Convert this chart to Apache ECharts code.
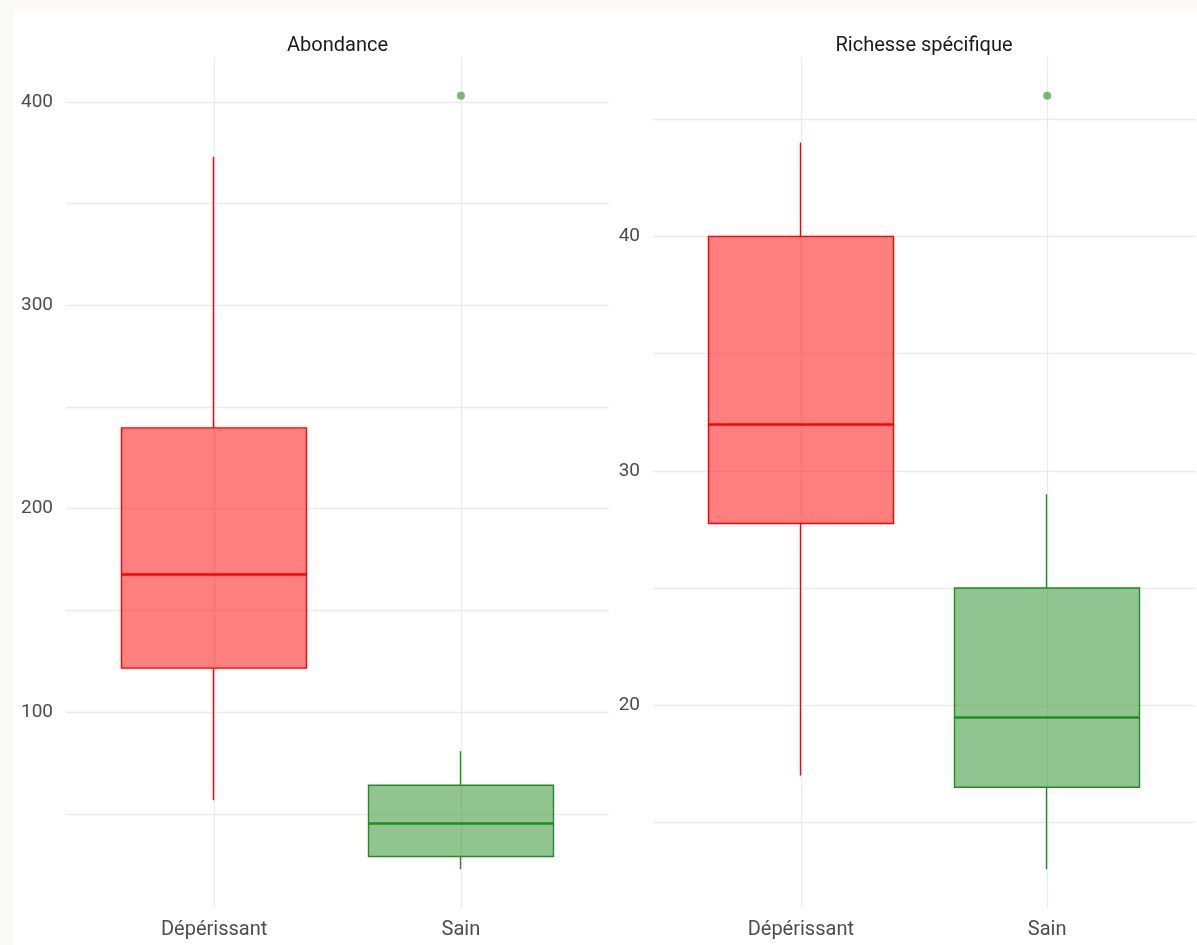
<!DOCTYPE html>
<html>
<head>
<meta charset="utf-8">
<style>
html,body{margin:0;padding:0;background:#faf9f7;}
#chart{width:1197px;height:945px;}
</style>
<script src="https://cdn.jsdelivr.net/npm/echarts@6/dist/echarts.min.js"></script>
</head>
<body>
<div id="chart"></div>
<script>
// ---- data ----
var categories = ['Dépérissant', 'Sain'];
var panelTitles = ['Abondance', 'Richesse spécifique'];
// [min, Q1, median, Q3, max] per category
var abondanceStats = [[56.7, 121.6, 167.8, 239.7, 373], [22.7, 29, 45.4, 64, 80.8]];
var abondanceOutliers = [[], [403]];
var richesseStats = [[17, 27.75, 32, 40, 44], [13, 16.5, 19.5, 25, 29]];
var richesseOutliers = [[], [46]];
var abondanceMajorTicks = [100, 200, 300, 400];
var abondanceMinorTicks = [50, 150, 250, 350];
var richesseMajorTicks = [20, 30, 40];
var richesseMinorTicks = [15, 25, 35, 45];

var fills = ['rgba(255,0,0,0.5)', 'rgba(34,139,34,0.5)'];
var strokes = ['#ff0000', '#228b22'];
var FONT = 'Roboto';

function range(stats, outliers) {
  var lo = Infinity, hi = -Infinity;
  stats.forEach(function (s) { lo = Math.min(lo, s[0]); hi = Math.max(hi, s[4]); });
  outliers.forEach(function (o) { o.forEach(function (v) { lo = Math.min(lo, v); hi = Math.max(hi, v); }); });
  var pad = (hi - lo) * 0.05;
  return [lo - pad, hi + pad];
}

var panels = [
  {stats: abondanceStats, outliers: abondanceOutliers, major: abondanceMajorTicks, minor: abondanceMinorTicks},
  {stats: richesseStats, outliers: richesseOutliers, major: richesseMajorTicks, minor: richesseMinorTicks}
];
var gridDefs = [
  {left: 66, right: 588, top: 57, bottom: 37},
  {left: 653, right: 2, top: 57, bottom: 37}
];
var catPos = categories.map(function (c, i) { return i + 1; });

var option = {
  backgroundColor: '#faf9f7',
  animation: false,
  graphic: [{type: 'rect', z: -10, silent: true, shape: {x: 13, y: 9, width: 1184, height: 936}, style: {fill: '#ffffff'}}],
  title: [],
  grid: [],
  xAxis: [],
  yAxis: [],
  series: []
};

panels.forEach(function (p, k) {
  var g = gridDefs[k];
  option.grid.push(g);
  var r = range(p.stats, p.outliers);
  var allTicks = p.major.concat(p.minor).sort(function (a, b) { return a - b; });
  var gl = g.left, gw = 1197 - g.left - g.right;
  option.title.push({
    text: panelTitles[k], left: gl + gw / 2 - 5, top: 31, textAlign: 'center',
    textStyle: {fontFamily: FONT, fontSize: 20, fontWeight: 'normal', color: '#1a1a1a'}
  });
  option.xAxis.push({
    type: 'value', gridIndex: k, min: 0.4, max: 2.6,
    axisLine: {show: false},
    axisTick: {show: false, customValues: catPos},
    axisLabel: {
      customValues: catPos, margin: 12,
      fontFamily: FONT, fontSize: 20, color: '#4d4d4d',
      formatter: function (v) { return categories[Math.round(v) - 1] || ''; }
    },
    splitLine: {show: true, lineStyle: {color: '#ebebeb', width: 1.3}}
  });
  option.yAxis.push({
    type: 'value', gridIndex: k, min: r[0], max: r[1],
    axisLine: {show: false},
    axisTick: {show: false, customValues: allTicks},
    axisLabel: {customValues: p.major, margin: 13, fontFamily: FONT, fontSize: 19, color: '#4d4d4d'},
    splitLine: {show: true, lineStyle: {color: '#ebebeb', width: 1.3}}
  });
  // box (Q1..Q3) with whiskers (min..max), no caps: [x, open=Q1, close=Q3, low=min, high=max]
  var boxData = p.stats.map(function (s, i) {
    return {
      value: [catPos[i], s[1], s[3], s[0], s[4]],
      itemStyle: {color: fills[i], color0: fills[i], borderColor: strokes[i], borderColor0: strokes[i], borderWidth: 1.4}
    };
  });
  var medianLines = p.stats.map(function (s, i) {
    return [
      {coord: [catPos[i] - 0.375, s[2]], lineStyle: {color: strokes[i], width: 2.6, type: 'solid'}},
      {coord: [catPos[i] + 0.375, s[2]]}
    ];
  });
  option.series.push({
    type: 'candlestick', xAxisIndex: k, yAxisIndex: k,
    barWidth: 185,
    data: boxData,
    silent: true,
    markLine: {silent: true, symbol: 'none', label: {show: false}, data: medianLines}
  });
  var outData = [];
  p.outliers.forEach(function (o, i) { o.forEach(function (v) { outData.push({value: [catPos[i], v], itemStyle: {color: strokes[i], opacity: 0.6}}); }); });
  option.series.push({
    type: 'scatter', xAxisIndex: k, yAxisIndex: k, symbolSize: 8, silent: true, data: outData
  });
});

var chart = echarts.init(document.getElementById('chart'));
chart.setOption(option);
</script>
</body>
</html>
